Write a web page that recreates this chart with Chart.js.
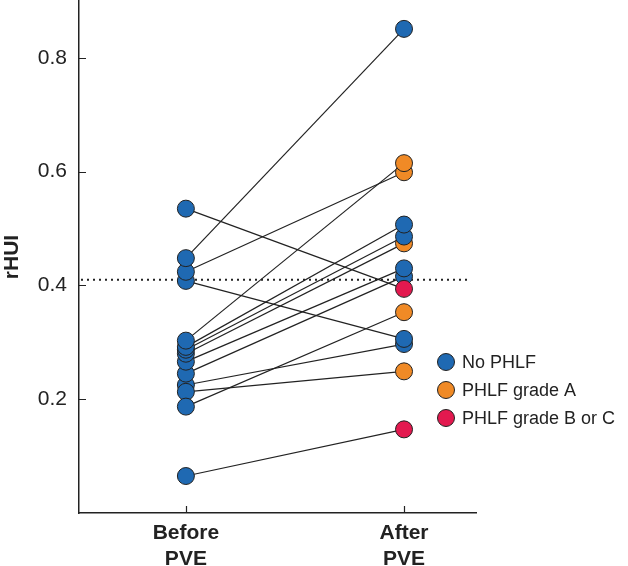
<!DOCTYPE html>
<html>
<head>
<meta charset="utf-8">
<script src="https://cdn.jsdelivr.net/npm/chart.js@4/dist/chart.umd.min.js"></script>
<style>
  html, body { margin: 0; padding: 0; background: #fff; }
  #wrap { width: 628px; height: 566px; position: relative; }
</style>
</head>
<body>
<div id="wrap"><canvas id="chart"></canvas></div>
<script>
'use strict'

const phases = [['Before', 'PVE'], ['After', 'PVE']]
const groups = ['No PHLF', 'PHLF grade A', 'PHLF grade B or C']
const groupColors = ['#1f69b2', '#f08a26', '#e3194f']
// one entry per patient
const beforeValues = [0.065, 0.225, 0.408, 0.213, 0.187, 0.245, 0.266, 0.535, 0.280, 0.287, 0.292, 0.424, 0.303, 0.448]
const afterValues = [0.147, 0.297, 0.306, 0.249, 0.353, 0.416, 0.430, 0.394, 0.474, 0.486, 0.507, 0.599, 0.615, 0.851]
const afterGroup = [2, 0, 0, 1, 1, 0, 0, 2, 1, 0, 0, 1, 1, 0]
const yTicks = [0.2, 0.4, 0.6, 0.8]
const threshold = 0.41

const ink = '#222222'

const pointStyle = {
  pointRadius: 8.5,
  pointHoverRadius: 8.5,
  pointBorderColor: ink,
  pointBorderWidth: 1
}

const datasets = [
  {
    data: afterValues.map((v) => ({ x: 2, y: v })),
    pointBackgroundColor: afterGroup.map((g) => groupColors[g]),
    ...pointStyle
  },
  {
    data: beforeValues.map((v) => ({ x: 1, y: v })),
    pointBackgroundColor: groupColors[0],
    ...pointStyle
  },
  ...beforeValues.map((v, i) => ({
    data: [{ x: 1, y: v }, { x: 2, y: afterValues[i] }],
    showLine: true,
    borderColor: ink,
    borderWidth: 1.2,
    pointRadius: 0
  }))
]

// dotted reference line, inward ticks and the in-plot legend
const extras = {
  id: 'extras',
  beforeDatasetsDraw(chart) {
    const { ctx, chartArea, scales } = chart
    const y = scales.y.getPixelForValue(threshold)
    ctx.save()
    ctx.strokeStyle = ink
    ctx.lineWidth = 2
    ctx.setLineDash([2, 4])
    ctx.beginPath()
    ctx.moveTo(chartArea.left + 2, y)
    ctx.lineTo(chartArea.right - 6, y)
    ctx.stroke()
    ctx.restore()
  },
  afterDraw(chart) {
    const { ctx, chartArea, scales } = chart
    ctx.save()
    ctx.strokeStyle = ink
    ctx.lineWidth = 1.2
    ctx.beginPath()
    yTicks.forEach((t) => {
      const y = Math.round(scales.y.getPixelForValue(t)) + 0.5
      ctx.moveTo(chartArea.left, y)
      ctx.lineTo(chartArea.left + 7, y)
    })
    ;[1, 2].forEach((t) => {
      const x = Math.round(scales.x.getPixelForValue(t)) + 0.5
      ctx.moveTo(x, chartArea.bottom)
      ctx.lineTo(x, chartArea.bottom - 7)
    })
    ctx.stroke()

    ctx.font = '18px "Liberation Sans", Arial, sans-serif'
    ctx.textBaseline = 'middle'
    ctx.textAlign = 'left'
    groups.forEach((g, i) => {
      const cy = 362 + i * 28
      ctx.beginPath()
      ctx.arc(446, cy, 8.5, 0, 2 * Math.PI)
      ctx.fillStyle = groupColors[i]
      ctx.fill()
      ctx.lineWidth = 1
      ctx.stroke()
      ctx.fillStyle = ink
      ctx.fillText(g, 462, cy + 1)
    })
    ctx.restore()
  }
}

const noEdgePadding = (scale) => {
  scale.paddingTop = 0
  scale.paddingBottom = 0
  scale.paddingLeft = 0
  scale.paddingRight = 0
}

new Chart(document.getElementById('chart'), {
  type: 'scatter',
  data: { datasets },
  plugins: [extras],
  options: {
    responsive: true,
    maintainAspectRatio: false,
    animation: false,
    layout: {
      autoPadding: false,
      padding: { top: 1, right: 152, bottom: 0, left: 0 }
    },
    plugins: {
      legend: { display: false },
      tooltip: { enabled: false }
    },
    scales: {
      x: {
        type: 'linear',
        min: 0.51,
        max: 2.33,
        afterBuildTicks: (scale) => {
          scale.ticks = [{ value: 1 }, { value: 2 }]
        },
        afterFit: (scale) => {
          scale.height = 53
          noEdgePadding(scale)
        },
        grid: { display: false },
        border: { color: ink, width: 1.5 },
        ticks: {
          color: ink,
          padding: -1,
          maxRotation: 0,
          autoSkip: false,
          font: { family: '"Liberation Sans", Arial, sans-serif', size: 21, weight: 'bold', lineHeight: 1.25 },
          callback: (v) => phases[v - 1]
        }
      },
      y: {
        min: 0,
        max: 0.9,
        afterBuildTicks: (scale) => {
          scale.ticks = yTicks.map((v) => ({ value: v }))
        },
        afterFit: (scale) => {
          scale.width = 79
          noEdgePadding(scale)
        },
        grid: { display: false },
        border: { color: ink, width: 1.5 },
        ticks: {
          color: ink,
          padding: 4,
          font: { family: '"Liberation Sans", Arial, sans-serif', size: 21 },
          callback: (v) => v.toFixed(1)
        },
        title: {
          display: true,
          text: 'rHUI',
          color: ink,
          padding: 0,
          font: { family: '"Liberation Sans", Arial, sans-serif', size: 21, weight: 'bold' }
        }
      }
    }
  }
})
</script>
</body>
</html>
